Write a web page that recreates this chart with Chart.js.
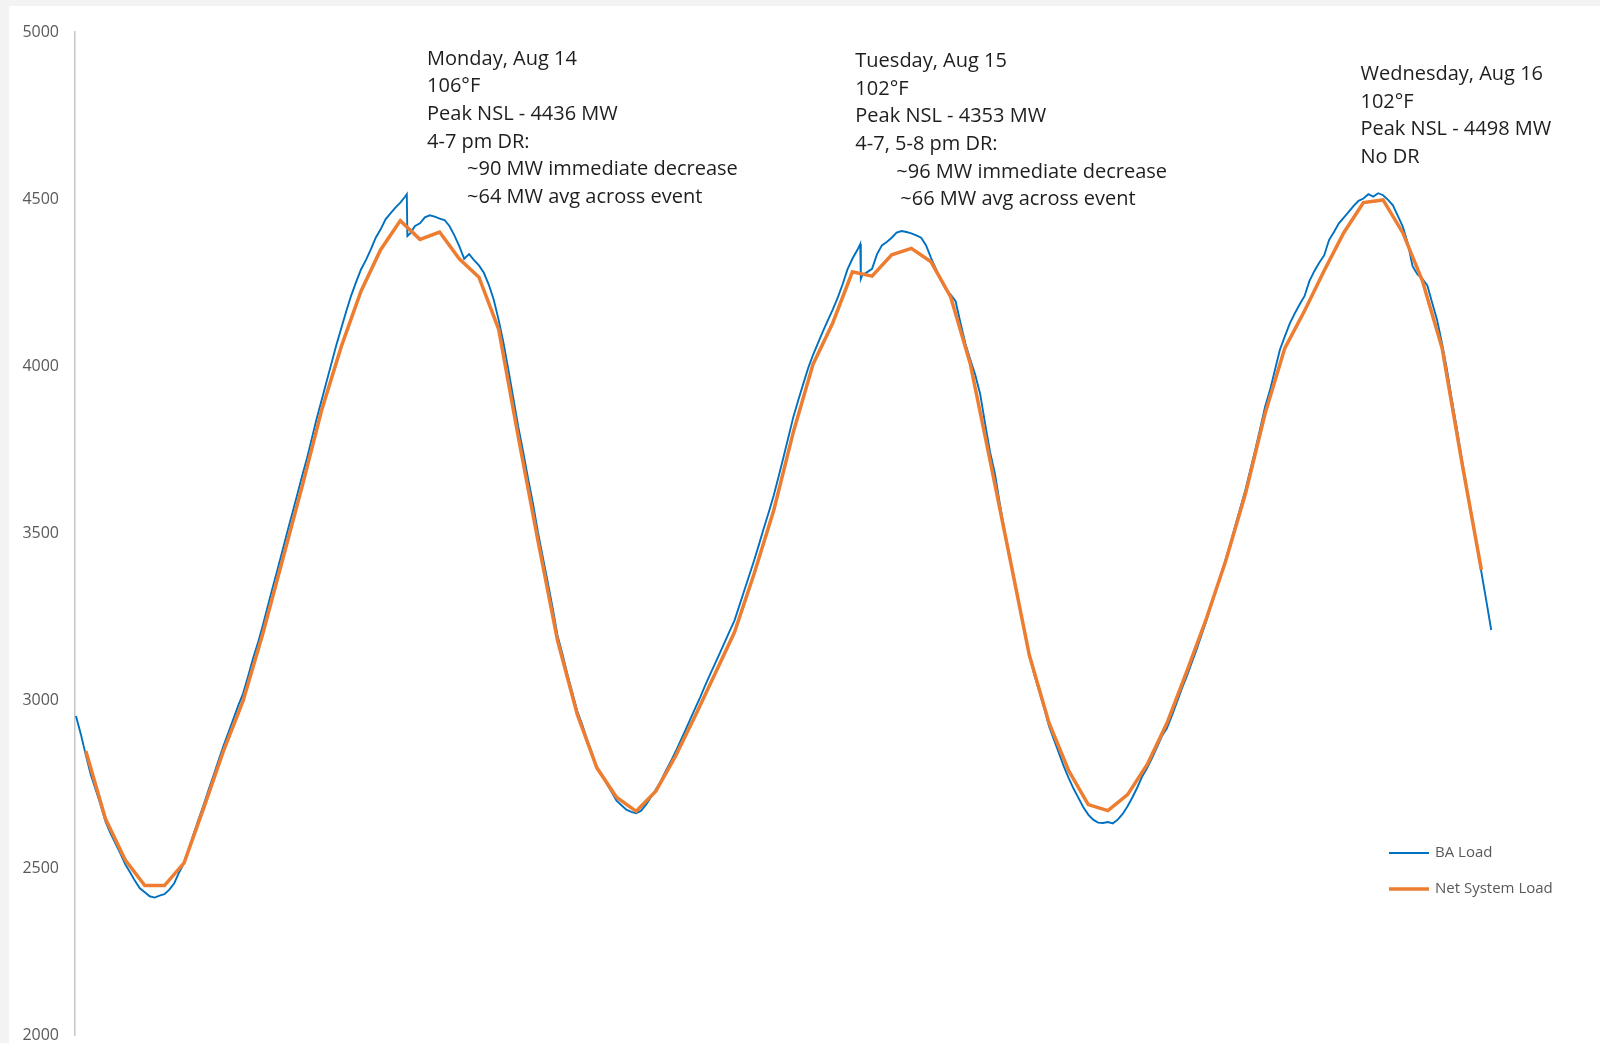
<!DOCTYPE html>
<html>
<head>
<meta charset="utf-8">
<script src="https://cdn.jsdelivr.net/npm/chart.js@4.4.1/dist/chart.umd.min.js"></script>
<style>
    html, body { margin: 0; padding: 0; background: #f3f3f3; overflow: hidden; }
    #painel { position: absolute; left: 9px; top: 6px; width: 1591px; height: 1037px; background: #fff; }
    #grafico { position: absolute; left: 0; top: 0; }
</style>
</head>
<body>
<div id="painel"></div>
<!-- taller than the window: the axis runs past the bottom edge like in the original -->
<canvas id="grafico" width="1600" height="1061"></canvas>
<script>

// Net System Load, hourly, hour 0 = first orange point
var netSystemLoad = [
    2850, 2648, 2525, 2448, 2448, 2516, 2680, 2850, 3000, 3200,
    3420, 3640, 3870, 4060, 4225, 4349, 4436, 4380, 4402, 4322,
    4267, 4112, 3790, 3480, 3180, 2960, 2800, 2712, 2670, 2730,
    2835, 2955, 3080, 3205, 3380, 3570, 3805, 4007, 4130, 4283,
    4270, 4334, 4353, 4313, 4208, 4007, 3720, 3430, 3137, 2935,
    2792, 2690, 2672, 2720, 2810, 2933, 3086, 3245, 3420, 3620,
    3860, 4055, 4166, 4286, 4400, 4490, 4498, 4400, 4256, 4055,
    3716, 3392
];

// BA Load, every 15 minutes starting half an hour before hour 0
var baLoadStart = -0.5;
var baLoadStep = 0.25;
var baLoad = [
    2955, 2900,
    2838, 2780, 2735, 2690,
    2640, 2605, 2575, 2545,
    2512, 2488, 2462, 2440,
    2428, 2416, 2412, 2418,
    2422, 2436, 2455, 2488,
    2515, 2560, 2605, 2648,
    2690, 2735, 2778, 2822,
    2865, 2905, 2945, 2985,
    3022, 3072, 3125, 3172,
    3225, 3282, 3338, 3392,
    3448, 3505, 3560, 3615,
    3672, 3725, 3785, 3845,
    3900, 3955, 4010, 4065,
    4115, 4165, 4212, 4252,
    4290, 4318, 4350, 4385,
    4410, 4440, 4458, 4475,
    4490, 4508, 4398, 4420,
    4428, 4446, 4452, 4448,
    4442, 4438, 4420, 4392,
    4360, 4322, 4336, 4318,
    4302, 4280, 4245, 4200,
    4140, 4070, 3990, 3905,
    3820, 3745, 3665, 3590,
    3505, 3430, 3355, 3278,
    3195, 3140, 3080, 3025,
    2970, 2930, 2885, 2845,
    2800, 2778, 2752, 2728,
    2702, 2688, 2675, 2668,
    2664, 2672, 2690, 2712,
    2735, 2760, 2790, 2818,
    2848, 2880, 2912, 2945,
    2978, 3010, 3045, 3078,
    3110, 3142, 3175, 3208,
    3240, 3285, 3330, 3375,
    3420, 3468, 3518, 3565,
    3615, 3672, 3730, 3790,
    3850, 3900, 3948, 3995,
    4035, 4070, 4105, 4138,
    4170, 4205, 4245, 4290,
    4322, 4348, 4272, 4282,
    4292, 4335, 4362, 4372,
    4385, 4400, 4405, 4402,
    4398, 4392, 4385, 4362,
    4325, 4292, 4258, 4232,
    4215, 4195, 4130, 4068,
    4020, 3975, 3918, 3830,
    3745, 3680, 3590, 3505,
    3435, 3360, 3285, 3208,
    3135, 3080, 3030, 2980,
    2925, 2885, 2845, 2805,
    2770, 2738, 2710, 2682,
    2660, 2645, 2636, 2635,
    2638, 2634, 2645, 2662,
    2685, 2712, 2742, 2775,
    2800, 2830, 2862, 2895,
    2918, 2955, 2995, 3035,
    3072, 3112, 3152, 3195,
    3238, 3285, 3330, 3378,
    3425, 3475, 3528, 3580,
    3632, 3692, 3752, 3815,
    3880, 3930, 3990, 4050,
    4090, 4128, 4158, 4185,
    4210, 4255, 4285, 4310,
    4332, 4378, 4402, 4428,
    4445, 4462, 4480, 4495,
    4502, 4515, 4508, 4518,
    4512, 4498, 4482, 4450,
    4418, 4370, 4300, 4275,
    4262, 4242, 4190, 4138,
    4068, 3990, 3900, 3815,
    3725, 3640, 3555, 3470,
    3385, 3300, 3212
];

// sharp drops when the DR events start [hour, MW]
var drDrops = [[16.33, 4515], [16.36, 4390], [39.40, 4366], [39.43, 4262]];

var yTicks = [2000, 2500, 3000, 3500, 4000, 4500, 5000];

var notaSegunda = ["Monday, Aug 14", "106°F", "Peak NSL - 4436 MW", "4-7 pm DR:", "~90 MW immediate decrease", "~64 MW avg across event"];
var notaTerca = ["Tuesday, Aug 15", "102°F", "Peak NSL - 4353 MW", "4-7, 5-8 pm DR:", "~96 MW immediate decrease", "~66 MW avg across event"];
var notaQuarta = ["Wednesday, Aug 16", "102°F", "Peak NSL - 4498 MW", "No DR"];

function montarSerieBA() {
    var pontos = [];
    for (var i = 0; i < baLoad.length; i++) {
        pontos.push({ x: baLoadStart + i * baLoadStep, y: baLoad[i] });
    }
    for (var j = 0; j < drDrops.length; j++) {
        pontos.push({ x: drDrops[j][0], y: drDrops[j][1] });
    }
    pontos.sort(function (a, b) { return a.x - b.x; });
    return pontos;
}

function montarSerieNSL() {
    var pontos = [];
    for (var i = 0; i < netSystemLoad.length; i++) {
        pontos.push({ x: i, y: netSystemLoad[i] });
    }
    return pontos;
}

var notas = [
    { linhas: notaSegunda, x: 17.36, v: 4925, recuo: [0, 0, 0, 0, 40, 40] },
    { linhas: notaTerca, x: 39.15, v: 4918, recuo: [0, 0, 0, 0, 41, 45] },
    { linhas: notaQuarta, x: 64.85, v: 4879, recuo: [0, 0, 0, 0] }
];

var pluginNotas = {
    id: 'notas',
    afterDraw: function (chart) {
        var ctx = chart.ctx;
        var sx = chart.scales.x, sy = chart.scales.y;
        ctx.save();
        ctx.font = '20px "Open Sans"';
        ctx.fillStyle = '#1e1e1e';
        ctx.textBaseline = 'middle';
        ctx.textAlign = 'left';
        for (var i = 0; i < notas.length; i++) {
            var n = notas[i];
            var px = sx.getPixelForValue(n.x);
            var py = sy.getPixelForValue(n.v) + 2;
            for (var k = 0; k < n.linhas.length; k++) {
                ctx.fillText(n.linhas[k], px + n.recuo[k], py + k * 27.6);
            }
        }
        ctx.restore();
    }
};

var pluginLegenda = {
    id: 'legendaInterna',
    afterDraw: function (chart) {
        var ctx = chart.ctx;
        var ordem = [0, 1];
        ctx.save();
        ctx.font = '15px "Open Sans"';
        ctx.textBaseline = 'middle';
        ctx.textAlign = 'left';
        for (var i = 0; i < ordem.length; i++) {
            var ds = chart.data.datasets[ordem[i]];
            var y = 853 + i * 36;
            ctx.strokeStyle = ds.borderColor;
            ctx.lineWidth = ds.borderWidth;
            ctx.beginPath();
            ctx.moveTo(1389, y);
            ctx.lineTo(1429, y);
            ctx.stroke();
            ctx.fillStyle = '#595959';
            ctx.fillText(ds.label, 1435, y);
        }
        ctx.restore();
    }
};

var grafico = new Chart(document.getElementById('grafico'), {
    type: 'line',
    data: {
        datasets: [
            { label: 'BA Load', data: montarSerieBA(), borderColor: '#0070c0', borderWidth: 1.9, pointRadius: 0, tension: 0, order: 1 },
            { label: 'Net System Load', data: montarSerieNSL(), borderColor: '#ed7d31', borderWidth: 3.5, pointRadius: 0, tension: 0, order: 0 }
        ]
    },
    options: {
        responsive: false,
        animation: false,
        devicePixelRatio: 1,
        layout: { padding: { top: 32, bottom: 0, left: 0, right: 40 } },
        plugins: { legend: { display: false }, tooltip: { enabled: false } },
        scales: {
            x: { type: 'linear', min: -0.55, max: 75, display: false },
            y: {
                min: 2000,
                max: 5000,
                afterBuildTicks: function (s) { s.ticks = yTicks.map(function (v) { return { value: v }; }); },
                afterFit: function (s) { s.width = 75; },
                ticks: {
                    color: '#595959',
                    font: { family: 'Open Sans', size: 16 },
                    padding: 16,
                    callback: function (v) { return String(v); }
                },
                grid: { display: false, drawTicks: false },
                border: { display: true, color: '#c6c6c6', width: 1.5 }
            }
        }
    },
    plugins: [pluginNotas, pluginLegenda]
});
</script>
</body>
</html>
